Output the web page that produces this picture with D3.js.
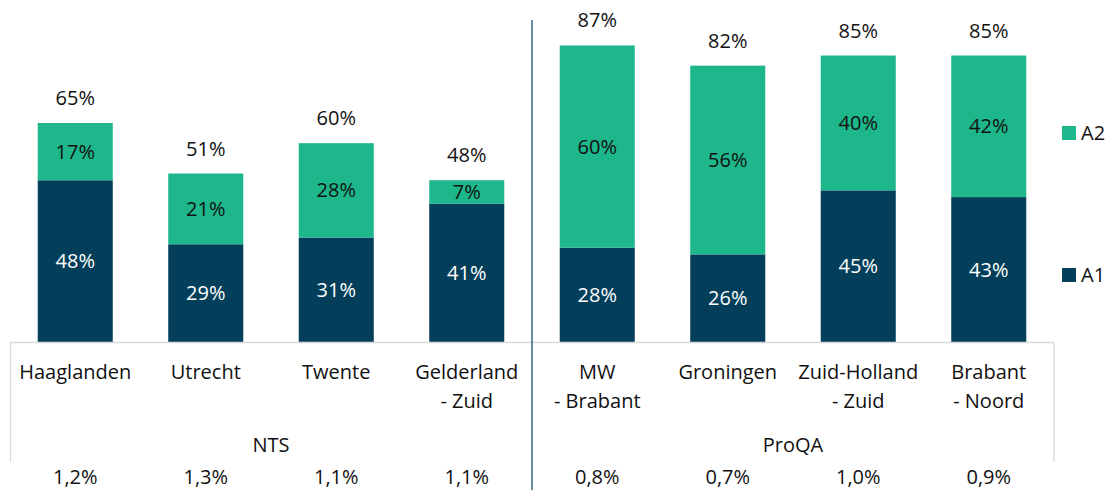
<!DOCTYPE html>
<html>
<head>
<meta charset="utf-8">
<script src="https://cdn.jsdelivr.net/npm/d3@7"></script>
<style>
  body { margin: 0; background: #fff; }
  svg { display: block; font-family: "Open Sans", Lato, sans-serif; }
</style>
</head>
<body>
<svg id="chart" width="1109" height="490"></svg>
<script>
const regions = ["Haaglanden", "Utrecht", "Twente", "Gelderland - Zuid", "MW - Brabant", "Groningen", "Zuid-Holland - Zuid", "Brabant - Noord"]
const regionLines = [["Haaglanden"], ["Utrecht"], ["Twente"], ["Gelderland", "- Zuid"], ["MW", "- Brabant"], ["Groningen"], ["Zuid-Holland", "- Zuid"], ["Brabant", "- Noord"]]
const groups = ["NTS", "ProQA"]
const groupSize = [4, 4]
const a1 = [48, 29, 31, 41, 28, 26, 45, 43]
const a2 = [17, 21, 28, 7, 60, 56, 40, 42]
const totals = ["65%", "51%", "60%", "48%", "87%", "82%", "85%", "85%"]
const bottomRow = ["1,2%", "1,3%", "1,1%", "1,1%", "0,8%", "0,7%", "1,0%", "0,9%"]
const seriesNames = ["A1", "A2"]

const colors = { A1: "#033f5a", A2: "#1db78b" }
const fs = 20
const svg = d3.select("#chart")

const x = d3.scaleBand()
    .domain(regions)
    .range([10, 1054])
    .paddingInner(0.425)
    .paddingOuter(0.2125)

const y = d3.scaleLinear().domain([0, 100]).range([342, 5])

const rows = regions.map((r, i) => ({ region: r, A1: a1[i], A2: a2[i] }))
const stack = d3.stack().keys(seriesNames)(rows)

// bars
const layer = svg.append("g").selectAll("g")
    .data(stack)
    .join("g")
    .attr("fill", d => colors[d.key])

layer.selectAll("rect")
    .data(d => d)
    .join("rect")
    .attr("x", d => x(d.data.region))
    .attr("width", x.bandwidth())
    .attr("y", d => y(d[1]))
    .attr("height", d => y(d[0]) - y(d[1]))

// segment labels
layer.selectAll("text")
    .data(d => d.map(v => Object.assign(v, { key: d.key })))
    .join("text")
    .attr("x", d => x(d.data.region) + x.bandwidth() / 2)
    .attr("y", d => (y(d[0]) + y(d[1])) / 2)
    .attr("dy", "0.35em")
    .attr("text-anchor", "middle")
    .attr("font-size", fs)
    .attr("fill", d => d.key === "A1" ? "#fff" : "#111")
    .text(d => (d[1] - d[0]) + "%")

// totals
svg.append("g").selectAll("text")
    .data(regions)
    .join("text")
    .attr("x", d => x(d) + x.bandwidth() / 2)
    .attr("y", (d, i) => y(a1[i] + a2[i]) - 25)
    .attr("dy", "0.35em")
    .attr("text-anchor", "middle")
    .attr("font-size", fs)
    .attr("fill", "#111")
    .text((d, i) => totals[i])

// category axis lines
const axisCol = "#d9d9d9"
const ax = svg.append("g").attr("stroke", axisCol).attr("stroke-width", 1.3)
ax.append("line").attr("x1", 10).attr("x2", 1054).attr("y1", 342.5).attr("y2", 342.5)
ax.append("line").attr("x1", 10.5).attr("x2", 10.5).attr("y1", 342).attr("y2", 462)
ax.append("line").attr("x1", 1054).attr("x2", 1054).attr("y1", 342).attr("y2", 462)

// group divider
const divX = x.range()[0] + x.step() * groupSize[0]
svg.append("line")
    .attr("x1", divX).attr("x2", divX)
    .attr("y1", 20).attr("y2", 490)
    .attr("stroke", "#1f4e6e").attr("stroke-width", 1.3)

// category labels
svg.append("g").selectAll("text")
    .data(regions)
    .join("text")
    .attr("x", d => x(d) + x.bandwidth() / 2)
    .attr("y", 372)
    .attr("text-anchor", "middle")
    .attr("font-size", fs)
    .attr("fill", "#111")
    .each(function (d, i) {
        d3.select(this).selectAll("tspan")
            .data(regionLines[i])
            .join("tspan")
            .attr("x", x(d) + x.bandwidth() / 2)
            .attr("dy", (t, j) => j === 0 ? "0.35em" : "1.45em")
            .text(t => t)
    })

// group labels
let start = 0
groups.forEach((g, gi) => {
    const x0 = x.range()[0] + x.step() * start
    const x1 = x0 + x.step() * groupSize[gi]
    svg.append("text")
        .attr("x", (x0 + x1) / 2)
        .attr("y", 445)
        .attr("dy", "0.35em")
        .attr("text-anchor", "middle")
        .attr("font-size", fs)
        .attr("fill", "#111")
        .text(g)
    start += groupSize[gi]
})

// bottom row
svg.append("g").selectAll("text")
    .data(regions)
    .join("text")
    .attr("x", d => x(d) + x.bandwidth() / 2)
    .attr("y", 477)
    .attr("dy", "0.35em")
    .attr("text-anchor", "middle")
    .attr("font-size", fs)
    .attr("fill", "#111")
    .text((d, i) => bottomRow[i])

// legend
const legend = svg.append("g").selectAll("g")
    .data(["A2", "A1"])
    .join("g")
    .attr("transform", (d, i) => `translate(1062,${133 + i * 142})`)
legend.append("rect")
    .attr("x", 0).attr("y", -7).attr("width", 14).attr("height", 14)
    .attr("fill", d => colors[d])
legend.append("text")
    .attr("x", 19).attr("dy", "0.35em")
    .attr("font-size", fs)
    .attr("fill", "#111")
    .text(d => d)
</script>
</body>
</html>
